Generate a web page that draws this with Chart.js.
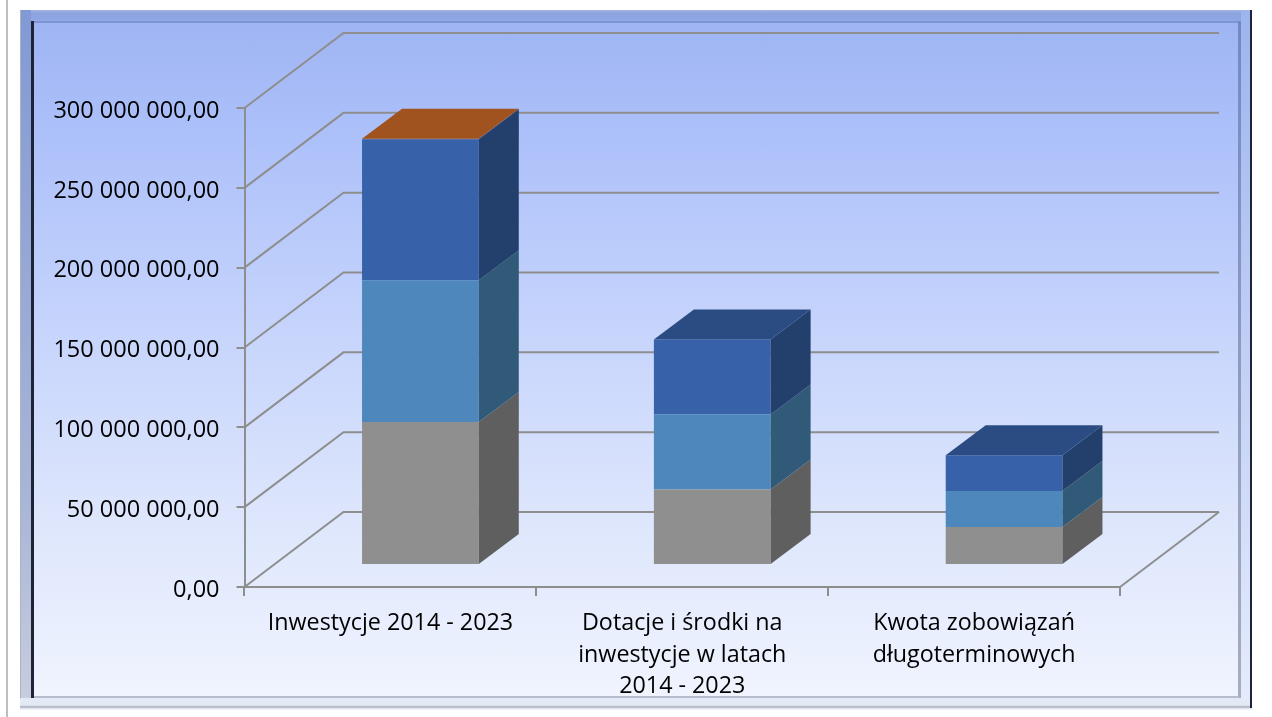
<!DOCTYPE html>
<html>
<head>
<meta charset="utf-8">
<title>Inwestycje</title>
<script src="https://cdn.jsdelivr.net/npm/chart.js@4/dist/chart.umd.min.js"></script>
<style>
  html, body { margin: 0; padding: 0; background: #fff; overflow: hidden; }
  #page { position: relative; width: 1272px; height: 717px; }
  #page div, #page canvas { position: absolute; }
  #pageLine { left: 6px; top: 0; width: 2px; height: 717px; background: #bdbdbd; }
  #outer { left: 20px; top: 10px; width: 1232px; height: 700px; background: #dfe5f5; }
  #bandTop { left: 20px; top: 10px; width: 1232px; height: 11px; background: linear-gradient(#a4b6e4, #8ba3de 30%, #8fa8e6); }
  #bandLeft { left: 20px; top: 10px; width: 11px; height: 698px; background: linear-gradient(#8299d4, #a9b5d6 70%, #c9cede); border-left: 1px solid #a9b4c9; box-sizing: border-box; }
  #bandRight { left: 1241px; top: 10px; width: 10px; height: 698px; background: linear-gradient(#9db4ee, #e6ecfc); }
  #bandBottom { left: 20px; top: 698px; width: 1232px; height: 12px; background: linear-gradient(#e4e9f6 60%, #a9adb8 75%, #eef1fa 90%); }
  #darkLeft { left: 31px; top: 21px; width: 3px; height: 677px; background: #1d2438; }
  #darkRight { left: 1250px; top: 10px; width: 2px; height: 698px; background: #1d2438; }
  #panel { left: 34px; top: 21px; width: 1204px; height: 676px;
    background: linear-gradient(#9fb5f3 0%, #abbff9 15%, #c6d4fc 45%, #dce5fc 72%, #f0f4fe 100%);
    border-top: 2px solid #7e95cf; box-sizing: border-box; }
  #innerRight { left: 1238px; top: 21px; width: 3px; height: 677px; background: linear-gradient(#7189c4, #a6adbe); }
  #innerBottom { left: 34px; top: 696px; width: 1205px; height: 2px; background: #b6bccb; }
  #chart { left: 0; top: 0; }
</style>
</head>
<body>
<div id="page">
  <div id="pageLine"></div>
  <div id="outer"></div>
  <div id="bandTop"></div>
  <div id="bandLeft"></div>
  <div id="bandRight"></div>
  <div id="bandBottom"></div>
  <div id="panel"></div>
  <div id="darkLeft"></div>
  <div id="darkRight"></div>
  <div id="innerRight"></div>
  <div id="innerBottom"></div>
  <canvas id="chart" width="1272" height="717"></canvas>
</div>
<script>
const categories = [
  "Inwestycje 2014 - 2023",
  ["Dotacje i środki na", "inwestycje w latach", "2014 - 2023"],
  ["Kwota zobowiązań", "długoterminowych"]
];
const greySeries = [89500000, 47300000, 23800000];
const lightBlueSeries = [88900000, 47000000, 22500000];
const blueSeries = [88300000, 47000000, 22500000];
const orangeSeries = [300000, 0, 0];
const yTicks = [0, 50000000, 100000000, 150000000, 200000000, 250000000, 300000000];

const lineColor = "#8e8e8e";
const wallDepth = { x: 99, y: -75 };   // back wall offset
const barShift = { x: 30, y: -22 };    // bars stand in the middle of the floor
const barDepth = { x: 40, y: -30 };

function formatPl(v) {
  return String(v).replace(/\B(?=(\d{3})+$)/g, " ") + ",00";
}

function polygon(ctx, pts, fill) {
  ctx.beginPath();
  pts.forEach((p, i) => i ? ctx.lineTo(p[0], p[1]) : ctx.moveTo(p[0], p[1]));
  ctx.closePath();
  ctx.fillStyle = fill;
  ctx.fill();
}

const fake3d = {
  id: "fake3d",
  beforeDatasetsDraw(chart) {
    const ctx = chart.ctx;
    const { left, right, bottom } = chart.chartArea;
    const yScale = chart.scales.y;

    ctx.save();
    ctx.strokeStyle = lineColor;
    ctx.lineWidth = 2;
    // side wall and back wall lines
    yTicks.forEach(t => {
      const y = yScale.getPixelForValue(t);
      ctx.beginPath();
      ctx.moveTo(left, y);
      ctx.lineTo(left + wallDepth.x, y + wallDepth.y);
      ctx.lineTo(right + wallDepth.x, y + wallDepth.y);
      ctx.stroke();
    });
    // floor edge
    ctx.beginPath();
    ctx.moveTo(right, bottom);
    ctx.lineTo(right + wallDepth.x, bottom + wallDepth.y);
    ctx.stroke();
    ctx.restore();

    ctx.save();
    ctx.translate(barShift.x, barShift.y);
  },
  afterDatasetsDraw(chart) {
    const ctx = chart.ctx;
    const count = chart.data.labels.length;
    for (let i = 0; i < count; i++) {
      let top = null;
      chart.data.datasets.forEach((ds, d) => {
        const bar = chart.getDatasetMeta(d).data[i];
        if (!ds.data[i]) return;
        const r = bar.x + bar.width / 2;
        polygon(ctx, [
          [r, bar.y], [r + barDepth.x, bar.y + barDepth.y],
          [r + barDepth.x, bar.base + barDepth.y], [r, bar.base]
        ], ds.sideColor);
        top = { bar, color: ds.topColor };
      });
      const l = top.bar.x - top.bar.width / 2;
      const r = top.bar.x + top.bar.width / 2;
      const y = top.bar.y;
      polygon(ctx, [
        [l, y], [l + barDepth.x, y + barDepth.y],
        [r + barDepth.x, y + barDepth.y], [r, y]
      ], top.color);
    }
    ctx.restore();
  }
};

new Chart(document.getElementById("chart"), {
  type: "bar",
  data: {
    labels: categories,
    datasets: [
      { label: "Seria 1", data: greySeries, backgroundColor: "#8f8f8f", sideColor: "#5f5f5f", topColor: "#6f6f6f" },
      { label: "Seria 2", data: lightBlueSeries, backgroundColor: "#4e87bb", sideColor: "#305a78", topColor: "#3a6a90" },
      { label: "Seria 3", data: blueSeries, backgroundColor: "#3762aa", sideColor: "#233f6c", topColor: "#2b4c82" },
      { label: "Seria 4", data: orangeSeries, backgroundColor: "#a0531e", sideColor: "#233f6c", topColor: "#a0531e" }
    ].map(ds => Object.assign(ds, { barPercentage: 0.4, categoryPercentage: 1, clip: false, borderWidth: 0 }))
  },
  options: {
    responsive: false,
    animation: false,
    layout: { padding: { top: 108, right: 152, bottom: 0, left: 0 } },
    plugins: { legend: { display: false }, title: { display: false }, tooltip: { enabled: false } },
    scales: {
      x: {
        stacked: true,
        afterFit(scale) { scale.height = 130; },
        border: { color: lineColor, width: 2 },
        grid: { drawOnChartArea: false, color: lineColor, lineWidth: 2, tickLength: 9 },
        ticks: {
          color: "#000", maxRotation: 0, autoSkip: false, padding: 12,
          font: { family: "Open Sans", size: 23.3, lineHeight: 1.35 }
        }
      },
      y: {
        stacked: true,
        min: 0,
        max: 300000000,
        afterFit(scale) { scale.width = 244.5; },
        afterBuildTicks(scale) { scale.ticks = yTicks.map(value => ({ value })); },
        border: { color: lineColor, width: 2 },
        grid: { drawOnChartArea: false, color: lineColor, lineWidth: 2, tickLength: 8 },
        ticks: {
          color: "#000", padding: 17, labelOffset: 3,
          font: { family: "Open Sans", size: 23.5 },
          callback: v => formatPl(v)
        }
      }
    }
  },
  plugins: [fake3d]
});
</script>
</body>
</html>
